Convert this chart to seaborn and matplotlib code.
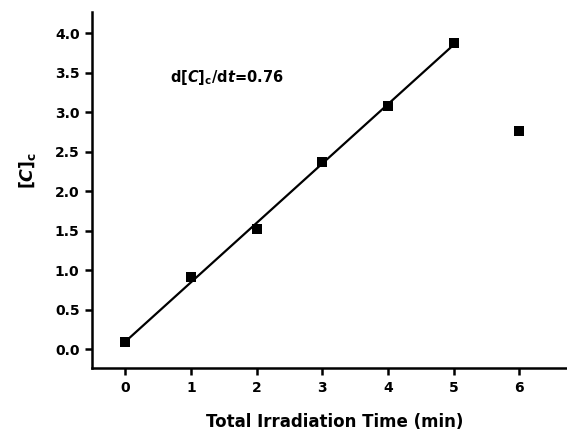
import numpy as np
import pandas as pd
import seaborn as sns
import matplotlib
matplotlib.use("Agg")
import matplotlib.pyplot as plt

time_min = [0, 1, 2, 3, 4, 5, 6]
conc = [0.09, 0.91, 1.52, 2.37, 3.08, 3.88, 2.76]
fit_n = 6  # points used in the linear fit
xticks = [0, 1, 2, 3, 4, 5, 6]
yticks = [0.0, 0.5, 1.0, 1.5, 2.0, 2.5, 3.0, 3.5, 4.0]

sns.set_theme(style="ticks")
plt.rcParams['font.family'] = ['DejaVu Sans']
plt.rcParams['font.weight'] = 'bold'
plt.rcParams['text.color'] = 'black'
plt.rcParams['axes.labelcolor'] = 'black'
plt.rcParams['xtick.color'] = 'black'
plt.rcParams['ytick.color'] = 'black'
plt.rcParams['mathtext.fontset'] = 'custom'
plt.rcParams['mathtext.rm'] = 'DejaVu Sans:bold'
plt.rcParams['mathtext.it'] = 'DejaVu Sans:bold:italic'
plt.rcParams['mathtext.bf'] = 'DejaVu Sans:bold'

df = pd.DataFrame({"t": time_min, "c": conc})
fit_df = df.iloc[:fit_n]

fig = plt.figure(figsize=(5.67, 4.32), dpi=100)
ax = fig.add_axes([92/567, 1 - 368/432, 1 - 92/567 + 0.02, (368 - 12)/432])

sns.regplot(data=fit_df, x="t", y="c", ci=None, ax=ax, truncate=True,
            scatter=False, line_kws=dict(color="black", lw=1.6))
sns.scatterplot(data=df, x="t", y="c", ax=ax, marker="s", s=62,
                color="black", edgecolor="black", linewidth=0, zorder=5)

ax.set_xlim(-0.51, 6.9)
ax.set_ylim(-0.24, 4.27)
ax.set_xticks(xticks)
ax.set_yticks(yticks)
ax.set_xticklabels([str(v) for v in xticks])
ax.set_yticklabels([f"{v:.1f}" for v in yticks])
for s in ["top", "right"]:
    ax.spines[s].set_visible(False)
for s in ["left", "bottom"]:
    ax.spines[s].set_linewidth(1.8)
    ax.spines[s].set_color("black")
ax.tick_params(direction="out", length=5, width=1.8, labelsize=10, colors="black", pad=4)
for lab in ax.get_xticklabels() + ax.get_yticklabels():
    lab.set_fontweight("bold")

ax.set_xlabel("Total Irradiation Time (min)", fontsize=12, fontweight="bold", labelpad=13, color="black")
ax.set_ylabel(r"[$\mathit{C}$]$_\mathrm{c}$", fontsize=12.5, fontweight="bold", color="black")
ax.yaxis.set_label_coords(-0.111, 0.556)
ax.text(0.68, 3.44, r"d[$\mathit{C}$]$_\mathrm{c}$/d$\mathit{t}$=0.76", fontsize=10.5,
        fontweight="bold", va="center", ha="left", color="black")

fig.savefig("out.png", dpi=100)
